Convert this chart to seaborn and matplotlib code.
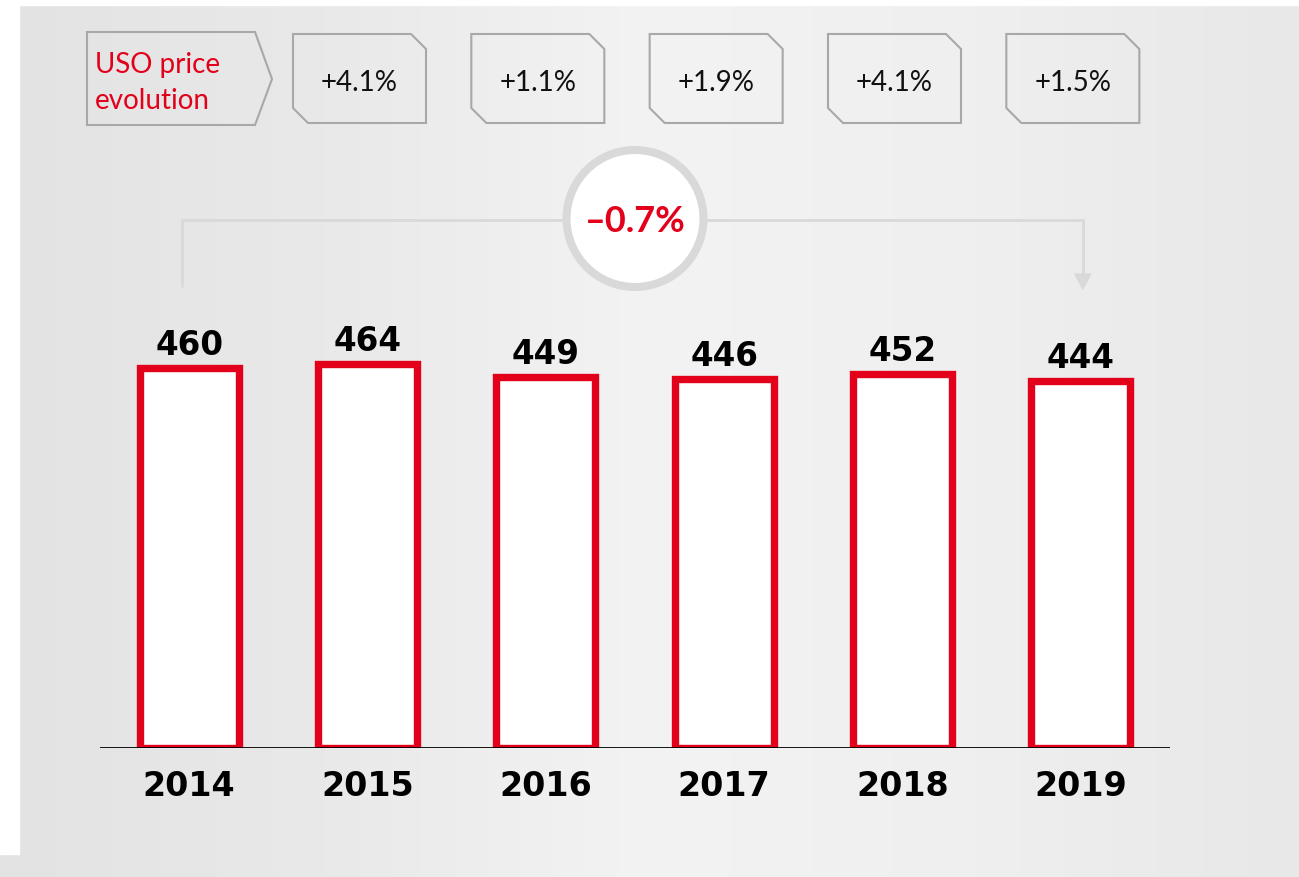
import numpy as np
import matplotlib
matplotlib.use('Agg')
import matplotlib.pyplot as plt
from matplotlib.patches import Polygon, Circle, Rectangle
from matplotlib.colors import LinearSegmentedColormap
import seaborn as sns

# Chart data
years = ['2014', '2015', '2016', '2017', '2018', '2019']
values = [460, 464, 449, 446, 452, 444]
price_changes = ['+4.1%', '+1.1%', '+1.9%', '+4.1%', '+1.5%']
overall_change = '–0.7%'
side_label = ['USO price', 'evolution']

RED = '#e2001a'
GREY_LINE = '#a8a8a8'
GREY_LIGHT = '#d9d9d9'

sns.set_style('white')
plt.rcParams['font.family'] = ['DejaVu Sans']
plt.rcParams['text.color'] = 'black'
plt.rcParams['xtick.color'] = 'black'
plt.rcParams['xtick.labelcolor'] = 'black'

W, H = 1299, 878
fig = plt.figure(figsize=(W / 100, H / 100), dpi=100)

# overlay axes in pixel coordinates (background + decorations)
ov = fig.add_axes([0, 0, 1, 1], zorder=0)
ov.set_xlim(0, W)
ov.set_ylim(H, 0)
ov.axis('off')

# horizontal grey gradient of the slide background
grad = LinearSegmentedColormap.from_list(
    'bg', [(0.0, '#e3e3e3'), (0.25, '#e9e9e9'), (0.5, '#f3f3f3'),
           (0.75, '#efefef'), (1.0, '#e8e8e8')])
ov.imshow(np.linspace(0, 1, 256)[None, :], cmap=grad, aspect='auto',
          extent=[0, W, H, 0], zorder=0)
ov.add_patch(Rectangle((0, 0), W, 6, color='white', zorder=1))
ov.add_patch(Rectangle((0, 0), 19, 855, color='white', zorder=1))

# bar axes
base_px = 749
ax = fig.add_axes([100 / W, (H - base_px) / H, 1070 / W, base_px / H], zorder=1)
ax.patch.set_alpha(0)
sns.barplot(x=years, y=values, color='white', edgecolor=RED, linewidth=5.3,
            width=0.555, saturation=1, ax=ax, zorder=2)
ax.set_xlim(-0.5, 5.5)
ax.set_ylim(0, base_px / 0.827)
ax.axhline(0, color='black', lw=2, zorder=3)
sns.despine(ax=ax, left=True, bottom=True)
ax.set_yticks([])
ax.set_xlabel('')
ax.set_ylabel('')
ax.tick_params(axis='x', length=0, pad=15, labelsize=24, labelcolor='black')
for lab in ax.get_xticklabels():
    lab.set_fontweight('bold')
ax.bar_label(ax.containers[0], labels=[str(v) for v in values], padding=5,
             fontsize=23.5, fontweight='bold', color='black')


def px_x(xd):
    return ax.transData.transform((xd, 0))[0]


# "USO price evolution" arrow box
ov.add_patch(Polygon([(87, 33), (255, 33), (272, 80), (255, 126), (87, 126)],
                     closed=True, fill=False, ec=GREY_LINE, lw=1.5, zorder=2))
ov.text(95, 73, side_label[0], color=RED, family='Lato', fontsize=20, va='baseline')
ov.text(95, 109, side_label[1], color=RED, family='Lato', fontsize=20, va='baseline')

# yearly price change boxes
bw, top, bot, cut = 133, 35, 124, 15
for i, txt in enumerate(price_changes):
    cx = px_x(i + 1) - 8
    l, r = cx - bw / 2, cx + bw / 2
    ov.add_patch(Polygon([(l, top), (r - cut, top), (r, top + cut), (r, bot),
                          (l + cut, bot), (l, bot - cut)],
                         closed=True, fill=False, ec=GREY_LINE, lw=1.5, zorder=2))
    ov.text(cx, 91, txt, family='Lato', fontsize=20, ha='center', va='baseline',
            color='#111111', zorder=3)

# connector from first to last bar
x0, x1, yline = px_x(0) - 7, px_x(5) + 2, 221
ov.plot([x0, x0, x1, x1], [287, yline, yline, 276], color=GREY_LIGHT, lw=2,
        solid_joinstyle='miter', zorder=2)
ov.add_patch(Polygon([(x1 - 8, 275), (x1 + 8, 275), (x1, 290)], closed=True,
                     color=GREY_LIGHT, zorder=2))

# overall change circle
cxc = px_x(2.5)
ov.add_patch(Circle((cxc, 219.5), 68.5, fc='white', ec=GREY_LIGHT, lw=5.8, zorder=3))
ov.text(cxc, 232, overall_change, color=RED, family='Lato', fontweight='bold',
        fontsize=26, ha='center', va='baseline', zorder=4)

fig.savefig('out.png', dpi=100)
